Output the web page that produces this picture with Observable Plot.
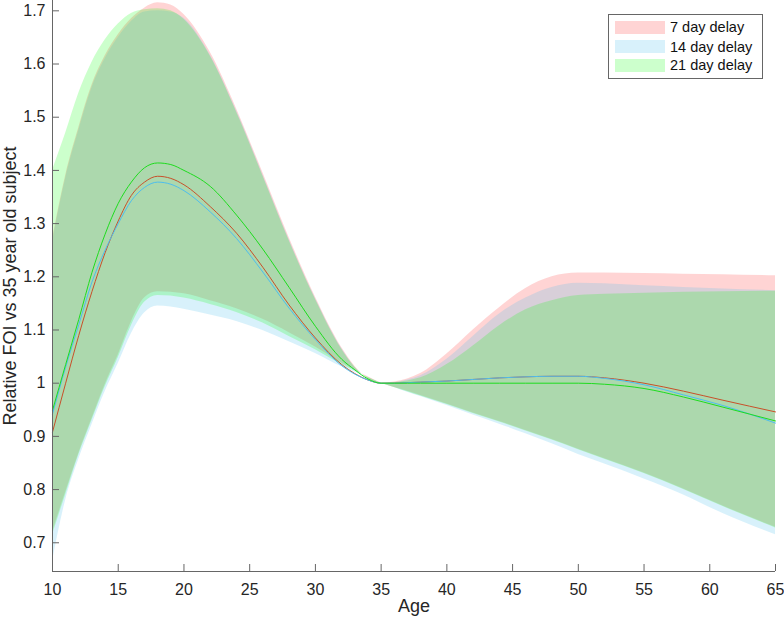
<!DOCTYPE html>
<html><head><meta charset="utf-8">
<script src="https://cdn.jsdelivr.net/npm/d3@7"></script>
<script src="https://cdn.jsdelivr.net/npm/@observablehq/plot@0.6"></script>
<style>
body{margin:0;background:#fff;font-family:"Liberation Sans",Arial,Helvetica,sans-serif;}
#wrap{position:relative;width:784px;height:621px;}
#legend{position:absolute;left:608px;top:14px;width:155px;height:65px;border:1px solid #666;background:#fff;box-sizing:border-box;}
.row{position:absolute;left:6px;height:14px;display:flex;align-items:center;font-size:14.5px;color:#111;white-space:nowrap;}
.sw{width:50px;height:13px;margin-right:5px;flex:none;}
</style></head><body><div id="wrap"></div>
<script>
const seriesNames = ["7 day delay", "14 day delay", "21 day delay"];
const ages = [10,11,12,13,14,15,16,17,18,19,20,22,24,26,28,30,32,33,34,35,36,37,38,40,42,44,46,48,50,52,55,58,61,65];

// 7 day delay band
const redUpper = [1.27,1.39,1.48,1.56,1.615,1.655,1.685,1.705,1.715,1.711,1.693,1.622,1.516,1.396,1.274,1.162,1.067,1.032,1.009,1.0,1.002,1.008,1.018,1.055,1.10,1.142,1.178,1.2,1.207,1.207,1.206,1.205,1.204,1.202];
const redLower = [0.72,0.795,0.868,0.933,0.997,1.053,1.115,1.16,1.172,1.171,1.168,1.155,1.14,1.12,1.095,1.068,1.038,1.025,1.012,1.0,0.992,0.985,0.977,0.961,0.944,0.928,0.911,0.894,0.876,0.858,0.831,0.801,0.769,0.729];
// 14 day delay band
const blueUpper = [1.265,1.385,1.475,1.555,1.61,1.65,1.68,1.698,1.70,1.698,1.686,1.617,1.512,1.392,1.27,1.159,1.065,1.03,1.008,1.0,1.001,1.006,1.014,1.045,1.088,1.13,1.16,1.18,1.188,1.187,1.183,1.18,1.177,1.174];
const blueLower = [0.665,0.78,0.857,0.922,0.984,1.037,1.093,1.132,1.145,1.143,1.139,1.128,1.116,1.099,1.078,1.056,1.031,1.021,1.01,1.0,0.992,0.983,0.975,0.958,0.94,0.923,0.905,0.886,0.866,0.848,0.82,0.79,0.755,0.715];
// 21 day delay band
const greenUpper = [1.40,1.47,1.545,1.603,1.645,1.675,1.695,1.702,1.704,1.70,1.684,1.615,1.51,1.39,1.268,1.158,1.064,1.03,1.008,1.0,1.001,1.004,1.01,1.035,1.07,1.108,1.138,1.155,1.165,1.167,1.169,1.171,1.172,1.173];
const greenLower = [0.715,0.79,0.865,0.93,0.993,1.048,1.108,1.152,1.165,1.164,1.16,1.148,1.133,1.113,1.088,1.063,1.035,1.023,1.011,1.0,0.992,0.984,0.976,0.96,0.943,0.927,0.91,0.893,0.875,0.857,0.83,0.8,0.768,0.728];
// central lines
const redMid = [0.908,1.0,1.09,1.172,1.245,1.305,1.353,1.378,1.389,1.385,1.373,1.332,1.282,1.218,1.147,1.085,1.035,1.018,1.006,1.0,1.0,1.001,1.002,1.004,1.007,1.01,1.012,1.013,1.013,1.01,1.0,0.985,0.968,0.946];
const blueMid = [0.942,1.03,1.11,1.19,1.25,1.3,1.343,1.368,1.378,1.374,1.362,1.322,1.272,1.209,1.141,1.082,1.033,1.017,1.006,1.0,1.0,1.001,1.002,1.004,1.007,1.01,1.012,1.013,1.013,1.009,0.997,0.978,0.958,0.925];
const greenMid = [0.949,1.035,1.12,1.208,1.28,1.338,1.378,1.405,1.414,1.411,1.40,1.37,1.316,1.252,1.18,1.107,1.045,1.025,1.008,1.0,1.0,1.0,1.0,1.0,1.0,1.0,1.0,1.0,1.0,0.998,0.99,0.974,0.955,0.929];

const xTicks = [10,15,20,25,30,35,40,45,50,55,60,65];
const yTicks = [0.7,0.8,0.9,1.0,1.1,1.2,1.3,1.4,1.5,1.6,1.7];
const yTickLabels = ["0.7","0.8","0.9","1","1.1","1.2","1.3","1.4","1.5","1.6","1.7"];
const xLabel = "Age";
const yLabel = "Relative FOI vs 35 year old subject";

const xDomain = [10, 65];
const yDomain = [0.646, 1.7194];

const bandFill = ["#ff0000", "#4dbeee", "#00ff00"];
const bandOpacity = [0.17, 0.22, 0.2];
const lineColor = ["#c8502a", "#4dbeee", "#1edc1e"];
const font = '"Liberation Sans", Arial, Helvetica, sans-serif';
const curve = "monotone-x";

const band = (lo, hi, i) => Plot.areaY(ages, {x: ages, y1: lo, y2: hi, fill: bandFill[i], fillOpacity: bandOpacity[i], curve});
const mid = (v, i) => Plot.lineY(ages, {x: ages, y: v, stroke: lineColor[i], strokeWidth: 1, curve});

const chart = Plot.plot({
  width: 784, height: 621,
  marginLeft: 52, marginRight: 9, marginTop: 0, marginBottom: 50,
  style: {fontFamily: font, fontSize: "16px", color: "#262626", background: "white", overflow: "visible"},
  x: {domain: xDomain},
  y: {domain: yDomain},
  marks: [
    band(redLower, redUpper, 0),
    band(blueLower, blueUpper, 1),
    band(greenLower, greenUpper, 2),
    mid(redMid, 0),
    mid(blueMid, 1),
    mid(greenMid, 2),
    Plot.ruleX([xDomain[0]], {stroke: "#666"}),
    Plot.ruleY([yDomain[0]], {stroke: "#666"}),
    Plot.axisX({ticks: xTicks, tickSize: -7, tickPadding: 19, tickFormat: d => String(d), label: null, stroke: "#666", fontSize: 16}),
    Plot.axisY({ticks: yTicks, tickSize: -7, tickPadding: 14, tickFormat: d => yTickLabels[yTicks.indexOf(d)], label: null, stroke: "#666", fontSize: 16}),
    Plot.text([xLabel], {frameAnchor: "bottom", dy: 40, fontSize: 18, fill: "#262626"}),
    Plot.text([yLabel], {frameAnchor: "left", textAnchor: "middle", rotate: -90, dx: -42, dy: 0, fontSize: 18, fill: "#262626"})
  ]
});

const wrap = document.getElementById("wrap");
wrap.appendChild(chart);

const legend = document.createElement("div");
legend.id = "legend";
const rowTops = [5, 24.5, 43];
seriesNames.forEach((name, i) => {
  const row = document.createElement("div");
  row.className = "row";
  row.style.top = rowTops[i] + "px";
  const sw = document.createElement("div");
  sw.className = "sw";
  sw.style.background = bandFill[i];
  sw.style.opacity = bandOpacity[i];
  const t = document.createElement("span");
  t.textContent = name;
  row.appendChild(sw);
  row.appendChild(t);
  legend.appendChild(row);
});
wrap.appendChild(legend);
</script>
</body></html>
